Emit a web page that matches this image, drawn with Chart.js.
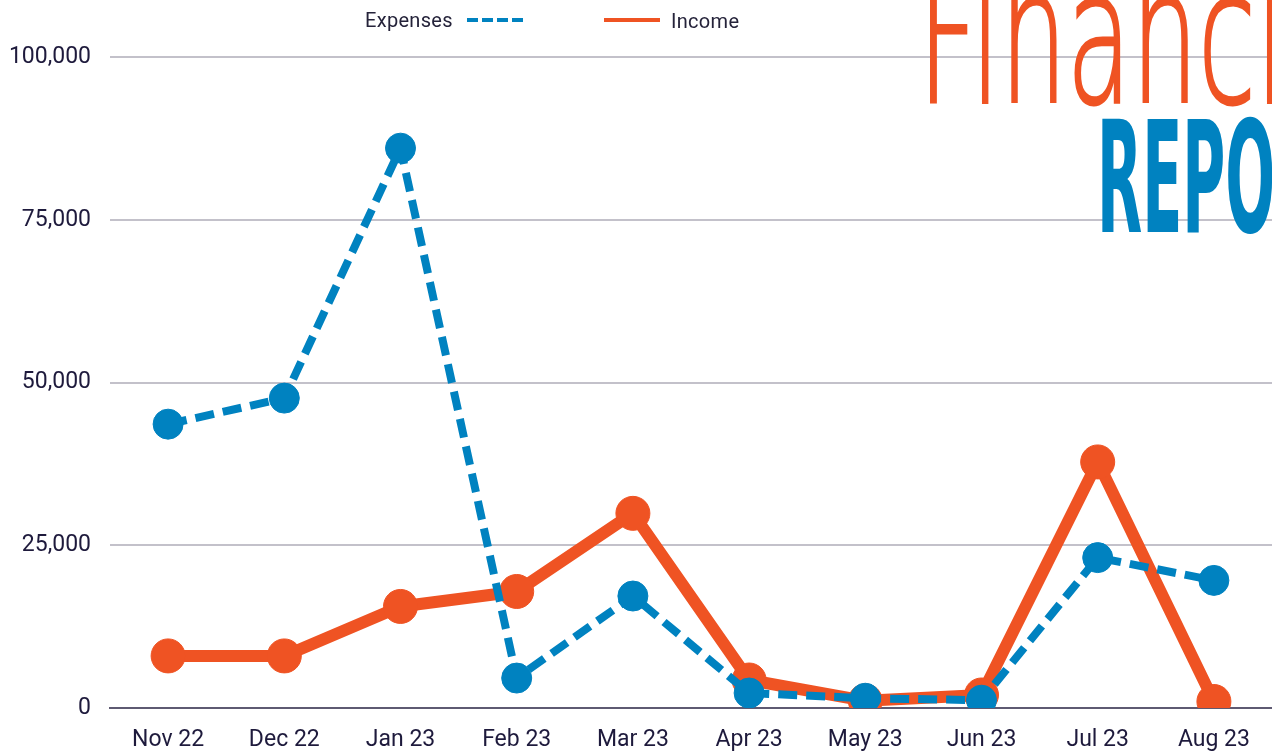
<!DOCTYPE html>
<html>
<head>
<meta charset="utf-8">
<script src="https://cdn.jsdelivr.net/npm/chart.js@4/dist/chart.umd.min.js"></script>
<style>
  html, body { margin: 0; padding: 0; background: #ffffff; overflow: hidden; }
  #wrap { position: relative; width: 1272px; height: 756px; overflow: hidden; }
  #chart { position: absolute; left: 0; top: 0; }
  .legend { position: absolute; font-family: Roboto, "DejaVu Sans", sans-serif; font-size: 20px; color: #25233a; line-height: 20px; white-space: nowrap; letter-spacing: 0.3px; }
  .legend svg { position: absolute; }
  #t1 { position: absolute; left: 918px; top: -57px; font-family: "DejaVu Sans", sans-serif; font-weight: 200; font-size: 188px; line-height: 1; color: #EF5323; -webkit-text-stroke: 3px #EF5323; white-space: nowrap; transform-origin: 0 0; }
  #t2 { position: absolute; left: 1097px; top: 101px; font-family: "DejaVu Sans Condensed", "DejaVu Sans", sans-serif; font-weight: 700; font-size: 155px; line-height: 1; color: #0082C0; white-space: nowrap; transform-origin: 0 0; }
</style>
</head>
<body>
<div id="wrap">
  <canvas id="chart" width="1272" height="756"></canvas>
  <div id="t1">Financial</div>
  <div id="t2">REPORT</div>
  <div class="legend" style="left:365px; top:10px;">Expenses</div>
  <svg class="legend" style="left:466px; top:14px;" width="60" height="12"><line x1="1" y1="6" x2="58" y2="6" stroke="#0082C0" stroke-width="4" stroke-dasharray="11 4"/></svg>
  <svg class="legend" style="left:602px; top:14px;" width="60" height="12"><line x1="2" y1="6" x2="58" y2="6" stroke="#EF5323" stroke-width="4"/></svg>
  <div class="legend" style="left:671px; top:11px;">Income</div>
</div>
<script>
const categories = ["Nov 22", "Dec 22", "Jan 23", "Feb 23", "Mar 23", "Apr 23", "May 23", "Jun 23", "Jul 23", "Aug 23"];
const expenses = [43600, 47600, 86000, 4600, 17200, 2300, 1500, 1200, 23100, 19600];
const income = [8000, 8000, 15600, 17900, 29900, 4300, 1100, 2000, 37800, 1000];
const yTicks = [0, 25000, 50000, 75000, 100000];

// scale the title words to the reference widths
(function () {
  const t1 = document.getElementById('t1');
  const t2 = document.getElementById('t2');
  const m = document.createElement('span');
  m.style.cssText = 'position:absolute;visibility:hidden;white-space:nowrap;';
  document.body.appendChild(m);
  m.style.font = getComputedStyle(t1).font;
  m.textContent = 'Financ';
  const w1 = m.getBoundingClientRect().width;
  t1.style.transform = 'scaleX(' + (338 / w1) + ')';
  m.style.font = getComputedStyle(t2).font;
  m.textContent = 'REPO';
  const w2 = m.getBoundingClientRect().width;
  t2.style.transform = 'scaleX(' + (178 / w2) + ')';
  m.remove();
})();

const ORANGE = '#EF5323';
const BLUE = '#0082C0';
const TEXT = '#1e1a3c';

new Chart(document.getElementById('chart'), {
  type: 'line',
  data: {
    labels: categories,
    datasets: [
      {
        label: 'Expenses',
        data: expenses,
        borderColor: BLUE,
        backgroundColor: BLUE,
        pointBackgroundColor: BLUE,
        pointBorderColor: BLUE,
        borderWidth: 8,
        borderDash: [19, 9],
        borderCapStyle: 'butt',
        pointRadius: 15,
        pointBorderWidth: 1,
        tension: 0,
        fill: false
      },
      {
        label: 'Income',
        data: income,
        borderColor: ORANGE,
        backgroundColor: ORANGE,
        pointBackgroundColor: ORANGE,
        pointBorderColor: ORANGE,
        borderWidth: 12,
        borderJoinStyle: 'round',
        borderCapStyle: 'round',
        pointRadius: 17,
        pointBorderWidth: 1,
        tension: 0,
        fill: false
      }
    ]
  },
  options: {
    responsive: false,
    animation: false,
    events: [],
    layout: { autoPadding: false, padding: { top: 57, bottom: 0, left: 0, right: 0 } },
    plugins: {
      legend: { display: false },
      tooltip: { enabled: false },
      title: { display: false }
    },
    scales: {
      x: {
        offset: true,
        grid: { display: false, drawTicks: false },
        border: { display: true, color: '#5e5a72', width: 2 },
        ticks: {
          color: TEXT,
          font: { family: 'Roboto', size: 23 },
          padding: 18,
          maxRotation: 0,
          autoSkip: false
        },
        afterFit: function (scale) { scale.height = 48; scale.paddingLeft = 0; scale.paddingRight = 0; }
      },
      y: {
        min: 0,
        max: 100000,
        afterBuildTicks: function (scale) { scale.ticks = yTicks.map(v => ({ value: v })); },
        grid: {
          color: function (ctx) { return ctx.tick && ctx.tick.value === 0 ? '#5e5a72' : '#c3c1ca'; },
          lineWidth: 2,
          drawTicks: false
        },
        border: { display: false },
        ticks: {
          color: TEXT,
          font: { family: 'Roboto', size: 23 },
          padding: 19,
          callback: function (v) { return Number(v).toLocaleString('en-US'); }
        },
        afterFit: function (scale) { scale.width = 110; scale.paddingTop = 0; scale.paddingBottom = 0; }
      }
    }
  }
});
</script>
</body>
</html>
